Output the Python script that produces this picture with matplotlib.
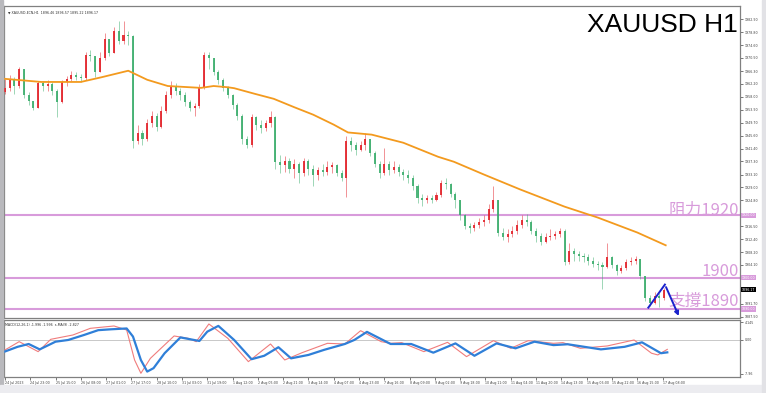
import numpy as np
import matplotlib
matplotlib.use("Agg")
import matplotlib.pyplot as plt
from matplotlib.patches import Rectangle

plt.rcParams['font.family'] = ['DejaVu Sans']

# candles, one per 3 H1 bars (open = previous close)
first_open = 1959.5
closes = [
    1961.0, 1963.4, 1961.5, 1966.8, 1958.5, 1956.8, 1954.6, 1962.6, 1961.5, 1962.2,
    1960.0, 1956.5, 1962.8, 1963.8, 1965.0, 1964.5, 1964.0, 1971.5, 1971.0, 1966.0,
    1970.5, 1976.5, 1972.0, 1979.0, 1976.0, 1978.0, 1977.5, 1944.0, 1946.5, 1944.5,
    1949.5, 1952.0, 1948.5, 1953.5, 1958.5, 1961.5, 1960.0, 1958.5, 1956.5, 1954.5,
    1955.0, 1961.0, 1971.5, 1970.5, 1966.0, 1963.5, 1961.0, 1958.5, 1955.5, 1952.0,
    1944.5, 1942.5, 1951.5, 1949.0, 1948.0, 1949.5, 1951.5, 1937.0, 1936.0, 1937.5,
    1935.0, 1936.5, 1933.5, 1937.5, 1935.0, 1933.0, 1934.5, 1934.0, 1935.5, 1936.0,
    1933.5, 1932.0, 1944.0, 1942.5, 1941.0, 1942.5, 1944.5, 1940.0, 1936.5, 1933.5,
    1936.5, 1934.5, 1935.5, 1934.0, 1933.0, 1932.0, 1929.5, 1925.5, 1925.0, 1925.5,
    1925.0, 1926.5, 1930.5, 1930.0, 1927.0, 1925.0, 1920.0, 1916.5, 1916.0, 1917.0,
    1918.0, 1918.5, 1922.0, 1925.0, 1914.5, 1913.0, 1914.0, 1915.0, 1917.0, 1918.5,
    1918.0, 1915.0, 1913.5, 1911.5, 1913.0, 1913.5, 1914.0, 1915.0, 1905.0, 1908.5,
    1907.5, 1907.0, 1906.5, 1905.5, 1904.5, 1904.0, 1903.5, 1906.5, 1904.0, 1902.0,
    1903.0, 1905.0, 1905.5, 1906.0, 1900.5, 1893.5, 1892.0, 1894.0, 1893.5, 1896.17,
]
highs = [
    1963.6, 1965.0, 1964.5, 1967.5, 1966.5, 1959.5, 1956.5, 1963.2, 1963.0, 1963.5,
    1962.8, 1960.5, 1963.5, 1964.8, 1966.2, 1966.0, 1965.3, 1972.3, 1973.0, 1970.5,
    1972.5, 1978.5, 1975.5, 1980.5, 1982.2, 1982.3, 1979.0, 1978.0, 1949.0, 1947.5,
    1951.0, 1953.5, 1953.0, 1955.0, 1960.0, 1963.0, 1962.5, 1961.0, 1959.5, 1957.0,
    1956.0, 1962.0, 1972.5, 1972.5, 1970.0, 1966.5, 1964.0, 1961.5, 1959.0, 1956.0,
    1952.5, 1945.5, 1952.5, 1952.0, 1950.5, 1950.5, 1953.5, 1952.0, 1939.5, 1939.0,
    1938.5, 1938.0, 1937.0, 1938.5, 1938.0, 1936.0, 1935.5, 1936.5, 1937.5, 1937.0,
    1936.5, 1934.5, 1945.5, 1945.0, 1943.5, 1944.0, 1946.5, 1944.5, 1940.5, 1937.5,
    1941.5, 1937.5, 1937.5, 1936.5, 1935.0, 1934.5, 1933.0, 1930.0, 1927.0, 1926.5,
    1926.5, 1927.5, 1931.5, 1932.0, 1930.5, 1927.5, 1925.0, 1920.5, 1917.5, 1918.0,
    1919.0, 1920.0, 1923.5, 1929.3, 1925.0, 1916.0, 1915.5, 1916.5, 1918.5, 1920.0,
    1920.5, 1918.5, 1916.0, 1914.5, 1914.5, 1915.5, 1915.0, 1916.0, 1915.5, 1911.2,
    1909.5, 1908.5, 1908.0, 1907.5, 1906.5, 1905.5, 1905.0, 1911.2, 1907.0, 1904.5,
    1904.0, 1906.0, 1906.5, 1907.0, 1906.0, 1900.5, 1894.5, 1895.5, 1895.0, 1896.8,
]
lows = [
    1958.8, 1959.8, 1959.0, 1961.0, 1957.5, 1955.5, 1953.8, 1954.3, 1959.8, 1960.0,
    1958.5, 1951.4, 1956.0, 1961.5, 1963.0, 1963.3, 1962.8, 1963.5, 1969.5, 1964.5,
    1966.0, 1970.0, 1971.0, 1972.5, 1975.0, 1975.0, 1974.5, 1941.5, 1943.0, 1942.5,
    1944.0, 1948.5, 1947.0, 1948.0, 1953.0, 1957.5, 1958.5, 1957.0, 1955.0, 1953.5,
    1952.0, 1954.5, 1960.5, 1967.0, 1965.0, 1962.0, 1960.0, 1957.5, 1954.0, 1950.5,
    1943.0, 1941.5, 1942.0, 1947.5, 1946.5, 1947.0, 1948.5, 1935.0, 1933.5, 1934.0,
    1933.5, 1932.0, 1930.5, 1932.5, 1933.0, 1929.5, 1931.5, 1932.5, 1933.0, 1933.5,
    1932.5, 1931.0, 1926.0, 1940.5, 1939.5, 1940.5, 1941.0, 1939.0, 1935.5, 1932.0,
    1933.0, 1933.0, 1933.5, 1932.5, 1931.5, 1930.5, 1928.0, 1924.0, 1923.0, 1924.0,
    1924.0, 1924.5, 1926.0, 1928.5, 1926.0, 1922.5, 1918.5, 1915.5, 1914.5, 1915.0,
    1916.0, 1916.5, 1917.5, 1921.0, 1913.5, 1912.0, 1911.5, 1913.0, 1914.0, 1916.0,
    1916.5, 1914.0, 1911.5, 1910.5, 1911.0, 1912.0, 1912.5, 1913.0, 1904.0, 1904.5,
    1905.5, 1905.5, 1905.0, 1904.0, 1903.5, 1902.5, 1896.5, 1903.0, 1903.0, 1901.0,
    1901.5, 1902.5, 1904.0, 1904.5, 1899.5, 1892.5, 1891.0, 1891.5, 1890.5, 1893.0,
]
bars_per_candle = 3

# moving average (orange)
ma_bars = [0, 23, 48, 61, 78, 90, 103, 124, 132, 141, 145, 158, 170, 183, 195,
           208, 217, 232, 252, 274, 284, 303, 326, 354, 375, 400, 418]
ma_vals = [1963.8, 1962.8, 1962.8, 1964.3, 1966.4, 1963.5, 1961.5, 1960.9, 1961.5,
           1961.1, 1960.8, 1959.0, 1957.4, 1954.7, 1952.3, 1949.1, 1946.6, 1945.9,
           1943.3, 1938.8, 1937.2, 1933.1, 1928.3, 1922.8, 1919.3, 1914.5, 1910.4]

# MACD panel
sig_bars = [0, 8, 15, 22, 32, 40, 50, 59, 67, 77, 81, 86, 90, 94, 101, 111, 123,
            128, 135, 145, 156, 164, 173, 181, 192, 202, 215, 221, 229, 238, 244,
            257, 271, 285, 297, 311, 323, 335, 347, 356, 377, 392, 403, 415, 419]
sig_vals = [-2.7, -1.6, -0.94, -2.2, -0.4, 0.0, 1.17, 2.3, 2.5, 2.7, 0.8, -4.7,
            -7.4, -6.6, -3.1, 0.6, -0.23, 1.95, 3.3, 0.0, -4.5, -3.7, -1.7, -4.3,
            -3.5, -2.3, -0.94, 0.0, 1.9, 0.2, -0.94, -0.94, -2.97, -0.8, -3.7, -0.8,
            -1.95, -0.4, -1.2, -1.0, -2.2, -1.6, -0.55, -3.1, -2.9]
macd_bars = [0, 9, 21, 29, 43, 54, 69, 77, 82, 86, 92, 107, 116, 121, 129, 141,
             154, 168, 177, 188, 204, 215, 225, 238, 244, 251, 265, 280, 292, 309,
             320, 331, 347, 353, 364, 381, 398, 409, 413, 419]
macd_vals = [-2.34, -0.39, -2.73, 0.16, 1.17, 2.73, 3.28, 2.34, -4.68, -7.8, -4.3,
             0.94, 0.39, -0.39, 3.75, 0.39, -5.07, -0.94, -4.68, -2.97, -0.78,
             -0.94, 2.18, -0.39, -0.78, -0.62, -2.73, -0.55, -3.9, -0.16, -1.95,
             -0.16, -0.78, -0.62, -1.95, -1.4, 0.0, -3.1, -3.5, -2.2]

# levels and arrow
levels = [1920, 1900, 1890]
level_texts = ["阻力1920", "1900", "支撐1890"]
level_text_y = [1920.3, 1900.5, 1890.9]
arrow_bars = [407, 417.5, 427]
arrow_prices = [1890.4, 1897.8, 1886.9]

price_ticks = [1982.90, 1978.80, 1974.60, 1970.50, 1966.30, 1962.20, 1958.00,
               1953.90, 1949.70, 1945.60, 1941.40, 1937.30, 1933.10, 1929.00,
               1924.80, 1916.50, 1912.40, 1908.20, 1904.10, 1891.70, 1887.50]
date_labels = ["24 Jul 2023", "24 Jul 23:00", "25 Jul 15:00", "26 Jul 08:00",
               "27 Jul 01:00", "27 Jul 17:00", "28 Jul 10:00", "31 Jul 03:00",
               "31 Jul 19:00", "1 Aug 12:00", "2 Aug 05:00", "2 Aug 21:00",
               "3 Aug 14:00", "4 Aug 07:00", "4 Aug 23:00", "7 Aug 16:00",
               "8 Aug 09:00", "9 Aug 02:00", "9 Aug 18:00", "10 Aug 11:00",
               "11 Aug 04:00", "11 Aug 20:00", "14 Aug 13:00", "15 Aug 06:00",
               "15 Aug 22:00", "16 Aug 15:00", "17 Aug 08:00"]
bars_per_label = 16
last_price = 1896.17

W, H = 766, 393
fig = plt.figure(figsize=(W / 100, H / 100), dpi=100)
fig.patch.set_facecolor('white')


def box(l, t, r, b):
    return [l / W, 1 - b / H, (r - l) / W, (b - t) / H]


fig.patches.append(Rectangle((0, 0), 3 / W, 1, transform=fig.transFigure, color='#b9b9bd', zorder=0))
fig.patches.append(Rectangle((0, 0), 1, 8 / H, transform=fig.transFigure, color='#ececf0', zorder=0))
fig.patches.append(Rectangle((762 / W, 0), 4 / W, 1, transform=fig.transFigure, color='#e2e2e6', zorder=0))

ax = fig.add_axes(box(4, 6, 740, 318))
ax2 = fig.add_axes(box(4, 320, 740, 377), sharex=ax)

up_c, dn_c = '#e3242b', '#3dae6e'
closes = np.array(closes)
opens = np.concatenate([[first_open], closes[:-1]])
xs = np.arange(len(closes)) * bars_per_candle
hi = np.maximum(np.array(highs), np.maximum(opens, closes))
lo = np.minimum(np.array(lows), np.minimum(opens, closes))
cols = np.where(closes >= opens, up_c, dn_c)
ax.vlines(xs, lo, hi, colors=cols, linewidth=0.7, alpha=0.5, zorder=2)
ax.bar(xs, np.maximum(np.abs(closes - opens), 0.2), bottom=np.minimum(opens, closes),
       width=1.3, color=cols, linewidth=0, alpha=0.9, zorder=3)

ax.plot(ma_bars, ma_vals, color='#f39a1e', lw=1.3, zorder=4)

pink = '#d89bdb'
for lv in levels:
    ax.axhline(lv, color=pink, lw=1.5, zorder=1)
    ax.text(1.002, lv, "%.2f" % lv, transform=ax.get_yaxis_transform(), fontsize=2.3,
            color='white', va='center', ha='left', clip_on=False,
            bbox=dict(boxstyle='square,pad=0.25', fc=pink, ec='none'))
for txt, ty in zip(level_texts, level_text_y):
    ax.text(0.999, ty, txt, transform=ax.get_yaxis_transform(), ha='right', va='baseline',
            fontsize=12, color=pink, family=['Noto Sans CJK TC', 'DejaVu Sans'], zorder=5)

ax.text(1.002, last_price, "%.2f" % last_price, transform=ax.get_yaxis_transform(), fontsize=2.3,
        color='white', va='center', ha='left', clip_on=False,
        bbox=dict(boxstyle='square,pad=0.25', fc='black', ec='none'))

ax.text(0.997, 0.917, "XAUUSD H1", transform=ax.transAxes, ha='right', va='baseline',
        fontsize=19, family='Liberation Sans', color='black', zorder=6)
ax.text(0.005, 0.985, "\u25bc XAUUSD-ECN,H1  1896.46 1896.57 1895.22 1896.17",
        transform=ax.transAxes, ha='left', va='top', fontsize=2.3, color='#303030')

bc = '#1a22cc'
ax.plot(arrow_bars[:2], arrow_prices[:2], color=bc, lw=1.4, zorder=7, clip_on=False)
ax.annotate("", xy=(arrow_bars[2], arrow_prices[2]), xytext=(arrow_bars[1], arrow_prices[1]),
            arrowprops=dict(arrowstyle='-|>', color=bc, lw=1.4, mutation_scale=6),
            annotation_clip=False, zorder=7)

ax.set_xlim(-0.6, 465)
ax.set_ylim(1887.07, 1987.17)
ax.yaxis.tick_right()
ax.set_yticks(price_ticks)
ax.set_yticklabels(["%.2f" % p for p in price_ticks])
ax.tick_params(axis='y', labelsize=2.3, length=2, width=0.5, pad=1.5, colors='#404040')
ax.tick_params(axis='x', bottom=False, labelbottom=False)

ax2.axhline(0, color='#c8c8c8', lw=0.7)
ax2.plot(macd_bars, macd_vals, color='#f07c7c', lw=0.8, zorder=3)
ax2.plot(sig_bars, sig_vals, color='#2f7fd8', lw=1.6, zorder=4)
ax2.text(0.002, 0.95, "MACD(12,26,1) -1.996 -1.996  s-MA(9) -2.827", transform=ax2.transAxes,
         ha='left', va='top', fontsize=2.3, color='#303030')
ax2.set_ylim(-8.67, 4.68)
ax2.yaxis.tick_right()
ax2.set_yticks([4.145, 0.0, -7.96])
ax2.set_yticklabels(["4.145", "0.00", "-7.96"])
ax2.tick_params(axis='y', labelsize=2.3, length=2, width=0.5, pad=1.5, colors='#404040')
ax2.set_xticks([i * bars_per_label for i in range(len(date_labels))])
ax2.set_xticklabels(date_labels)
ax2.tick_params(axis='x', labelsize=2.3, length=2, width=0.5, pad=1.2, colors='#404040')
for lbl in ax2.get_xticklabels():
    lbl.set_ha('left')

for a in (ax, ax2):
    for s in a.spines.values():
        s.set_color('#808080')
        s.set_linewidth(0.9)

fig.savefig("out.png", dpi=100)
